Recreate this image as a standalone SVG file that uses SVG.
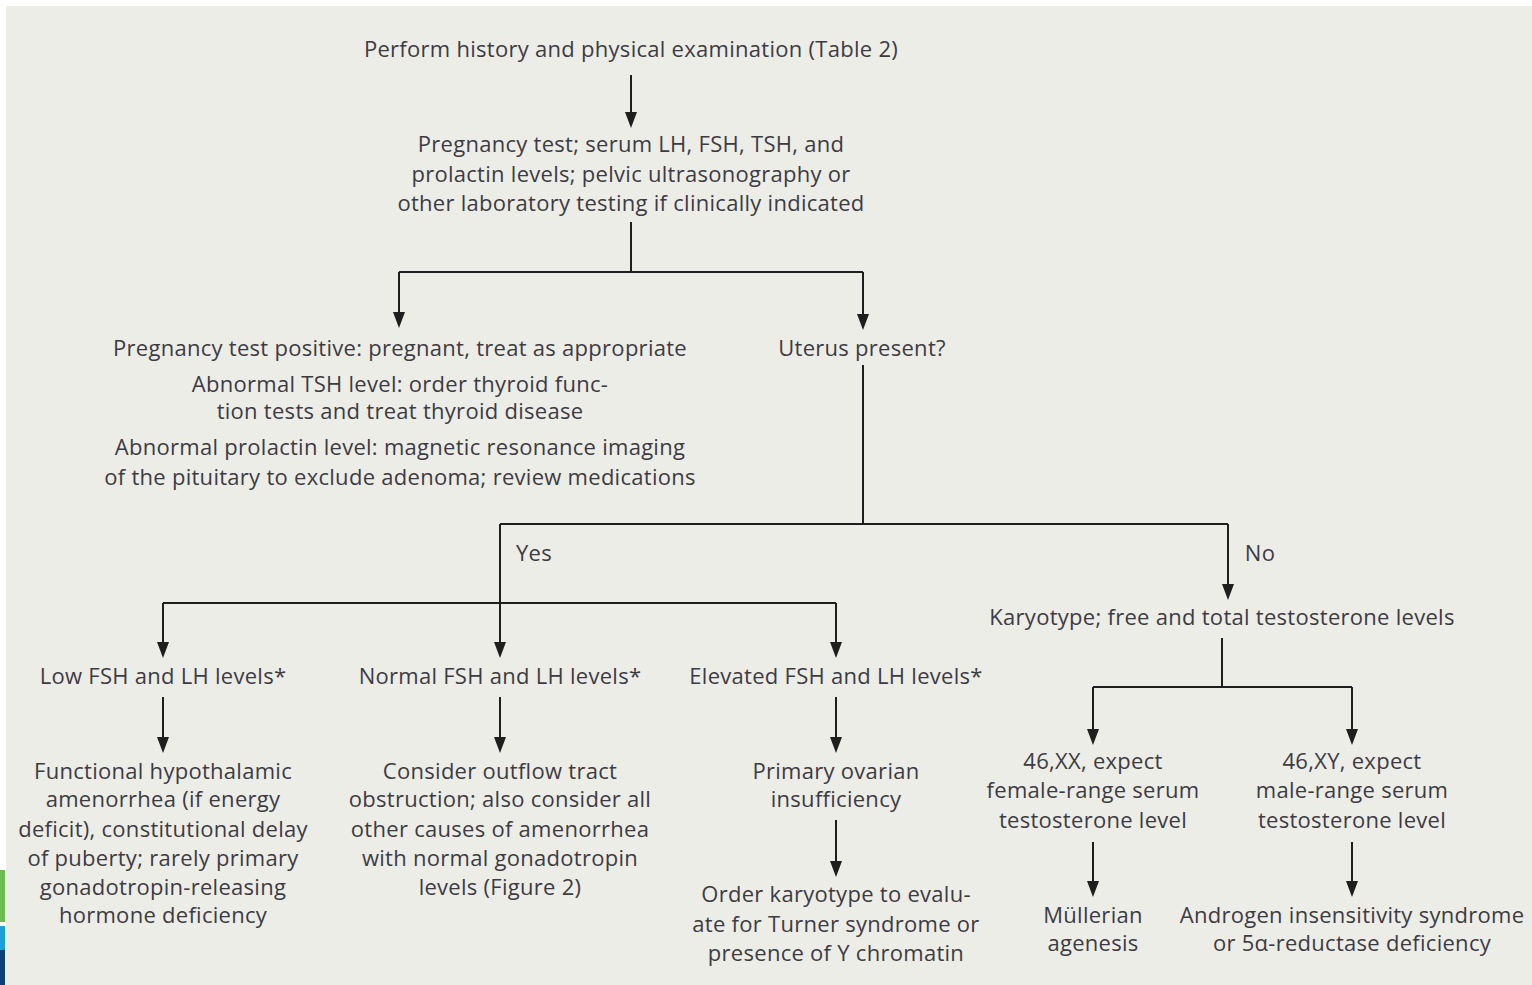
<svg xmlns="http://www.w3.org/2000/svg" width="1532" height="985" viewBox="0 0 1532 985">
<defs>
<style>
text{font-family:"Open Sans","Noto Sans","Liberation Sans",sans-serif;font-size:22px;letter-spacing:0.28px;fill:#3d3b42;text-anchor:middle}
.c{stroke:#1e1e1e;stroke-width:2;fill:none}
.h{fill:#1e1e1e}
</style>
</defs>
<rect x="0" y="0" width="1532" height="985" fill="#ffffff"/>
<rect x="6" y="6" width="1526" height="979" fill="#ededE8"/>
<rect x="0" y="870" width="5" height="52" fill="#6cbd52"/>
<rect x="0" y="926" width="5" height="24" fill="#1f9fd8"/>
<rect x="0" y="950" width="5" height="35" fill="#0d3f78"/>

<g id="connectors">
<path class="c" d="M631,75 V114"/><path class="h" d="M625,112 H637 L631,128 Z"/>
<path class="c" d="M631,222 V272 M399,272 H863 M399,272 V314 M863,272 V316"/>
<path class="h" d="M393,312 H405 L399,328 Z"/><path class="h" d="M857,314 H869 L863,330 Z"/>
<path class="c" d="M863,365 V524 M500,524 H1228 M500,524 V644 M1228,524 V586 M163,603 H836 M163,603 V644 M836,603 V644"/>
<path class="h" d="M494,642 H506 L500,658 Z"/><path class="h" d="M1222,584 H1234 L1228,600 Z"/>
<path class="h" d="M157,642 H169 L163,658 Z"/><path class="h" d="M830,642 H842 L836,658 Z"/>
<path class="c" d="M1222,638 V687 M1093,687 H1352 M1093,687 V731 M1352,687 V731"/>
<path class="h" d="M1087,729 H1099 L1093,745 Z"/><path class="h" d="M1346,729 H1358 L1352,745 Z"/>
<path class="c" d="M163,697 V739 M500,697 V739 M836,697 V739"/>
<path class="h" d="M157,737 H169 L163,753 Z"/><path class="h" d="M494,737 H506 L500,753 Z"/><path class="h" d="M830,737 H842 L836,753 Z"/>
<path class="c" d="M836,820 V863"/><path class="h" d="M830,861 H842 L836,877 Z"/>
<path class="c" d="M1093,842 V883 M1352,842 V883"/>
<path class="h" d="M1087,881 H1099 L1093,897 Z"/><path class="h" d="M1346,881 H1358 L1352,897 Z"/>
</g>

<g id="n-history"><text x="631" y="57">Perform history and physical examination (Table 2)</text></g>
<g id="n-tests">
<text x="631" y="152">Pregnancy test; serum LH, FSH, TSH, and</text>
<text x="631" y="182">prolactin levels; pelvic ultrasonography or</text>
<text x="631" y="211">other laboratory testing if clinically indicated</text>
</g>
<g id="n-positive">
<text x="400" y="356">Pregnancy test positive: pregnant, treat as appropriate</text>
<text x="400" y="392">Abnormal TSH level: order thyroid func-</text>
<text x="400" y="419">tion tests and treat thyroid disease</text>
<text x="400" y="455">Abnormal prolactin level: magnetic resonance imaging</text>
<text x="400" y="485">of the pituitary to exclude adenoma; review medications</text>
</g>
<g id="n-uterus"><text x="862" y="356">Uterus present?</text></g>
<g id="l-yes"><text x="534" y="561">Yes</text></g>
<g id="l-no"><text x="1260" y="561">No</text></g>
<g id="n-karyotype"><text x="1222" y="625">Karyotype; free and total testosterone levels</text></g>
<g id="n-low"><text x="163" y="684">Low FSH and LH levels*</text></g>
<g id="n-normal"><text x="500" y="684">Normal FSH and LH levels*</text></g>
<g id="n-elevated"><text x="836" y="684">Elevated FSH and LH levels*</text></g>
<g id="n-functional">
<text x="163" y="779">Functional hypothalamic</text>
<text x="163" y="807">amenorrhea (if energy</text>
<text x="163" y="837">deficit), constitutional delay</text>
<text x="163" y="866">of puberty; rarely primary</text>
<text x="163" y="895">gonadotropin-releasing</text>
<text x="163" y="923">hormone deficiency</text>
</g>
<g id="n-outflow">
<text x="500" y="779">Consider outflow tract</text>
<text x="500" y="807">obstruction; also consider all</text>
<text x="500" y="837">other causes of amenorrhea</text>
<text x="500" y="866">with normal gonadotropin</text>
<text x="500" y="895">levels (Figure 2)</text>
</g>
<g id="n-poi">
<text x="836" y="779">Primary ovarian</text>
<text x="836" y="807">insufficiency</text>
</g>
<g id="n-order">
<text x="836" y="902">Order karyotype to evalu-</text>
<text x="836" y="932">ate for Turner syndrome or</text>
<text x="836" y="961">presence of Y chromatin</text>
</g>
<g id="n-xx">
<text x="1093" y="769">46,XX, expect</text>
<text x="1093" y="798">female-range serum</text>
<text x="1093" y="828">testosterone level</text>
</g>
<g id="n-xy">
<text x="1352" y="769">46,XY, expect</text>
<text x="1352" y="798">male-range serum</text>
<text x="1352" y="828">testosterone level</text>
</g>
<g id="n-mullerian">
<text x="1093" y="923">Müllerian</text>
<text x="1093" y="951">agenesis</text>
</g>
<g id="n-androgen">
<text x="1352" y="923">Androgen insensitivity syndrome</text>
<text x="1352" y="951">or 5α-reductase deficiency</text>
</g>
</svg>
